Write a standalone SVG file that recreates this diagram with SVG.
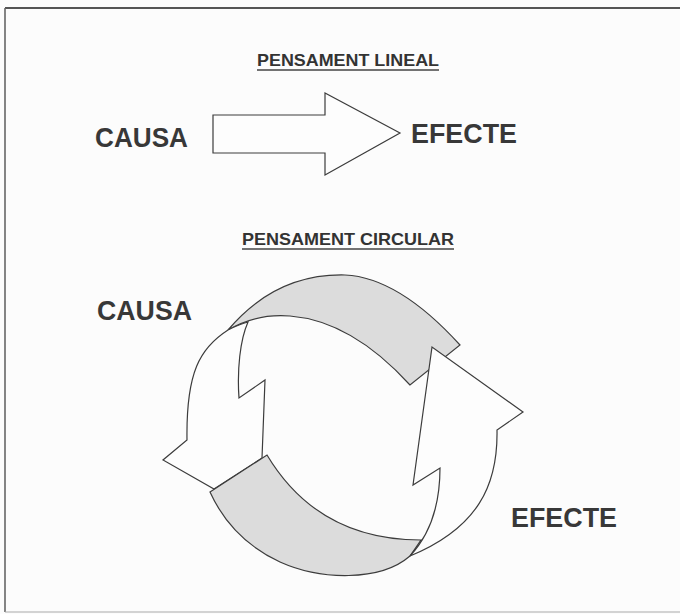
<svg xmlns="http://www.w3.org/2000/svg" width="680" height="614" viewBox="0 0 680 614">
  <style>
    .title { font-family: "Liberation Sans", Arial, sans-serif; font-weight: bold; font-size: 16.5px; fill: #333; }
    .label { font-family: "Liberation Sans", Arial, sans-serif; font-weight: bold; font-size: 27px; fill: #383838; }
    .uline { stroke: #444; stroke-width: 1.5; }
    .shape { stroke: #3c3c3c; stroke-width: 1.2; stroke-linejoin: miter; }
    .white { fill: #fdfdfd; }
    .gray { fill: #dcdcdc; }
  </style>
  <rect x="0" y="0" width="680" height="614" fill="#fcfcfc"/>
  <g id="frame" fill="none">
    <line x1="5" y1="8" x2="680" y2="8" stroke="#555" stroke-width="2"/>
    <line x1="5" y1="8" x2="5" y2="612" stroke="#666" stroke-width="1.6"/>
    <line x1="5" y1="612" x2="680" y2="612" stroke="#aaa" stroke-width="1.2"/>
  </g>

  <g id="title-lineal">
    <text class="title" x="257" y="66" textLength="182" lengthAdjust="spacingAndGlyphs">PENSAMENT LINEAL</text>
    <line class="uline" x1="257" y1="70" x2="439" y2="70"/>
  </g>
  <g id="causa-lineal">
    <text class="label" x="95" y="147" textLength="93" lengthAdjust="spacingAndGlyphs">CAUSA</text>
  </g>
  <g id="efecte-lineal">
    <text class="label" x="411" y="143" textLength="106" lengthAdjust="spacingAndGlyphs">EFECTE</text>
  </g>

  <g id="title-circular">
    <text class="title" x="242" y="245" textLength="212" lengthAdjust="spacingAndGlyphs">PENSAMENT CIRCULAR</text>
    <line class="uline" x1="242" y1="249" x2="454" y2="249"/>
  </g>
  <g id="causa-circular">
    <text class="label" x="97" y="320" textLength="95" lengthAdjust="spacingAndGlyphs">CAUSA</text>
  </g>
  <g id="efecte-circular">
    <text class="label" x="511" y="527" textLength="106" lengthAdjust="spacingAndGlyphs">EFECTE</text>
  </g>

  <g id="connectors">
    <path id="arrow-lineal" class="shape white" d="M213,115 L325,115 L325,93 L400,133 L325,175 L325,153 L213,153 Z"/>
    <path id="band-top" class="shape gray" d="M228,330 C260,292 300,274 345,275 C390,277 430,312 460,345 L410,385 C380,352 340,320 290,316 C265,314 245,320 228,330 Z"/>
    <path id="arrow-left" class="shape white" d="M228,330 C200,348 186,372 187,440 L163,460 L214,489 L262,458 L265,380 L239,398 C237,370 240,340 248,322 C240,324 234,327 228,330 Z"/>
    <path id="band-bottom" class="shape gray" d="M210,492 L267,455 C288,490 330,540 421,540 L410,556 C380,582 320,580 280,562 C250,548 225,525 210,492 Z"/>
    <path id="arrow-right" class="shape white" d="M410,556 C425,540 440,515 440,468 L413,485 L432,347 L523,412 L497,430 C498,485 478,528 410,556 Z"/>
  </g>
</svg>
